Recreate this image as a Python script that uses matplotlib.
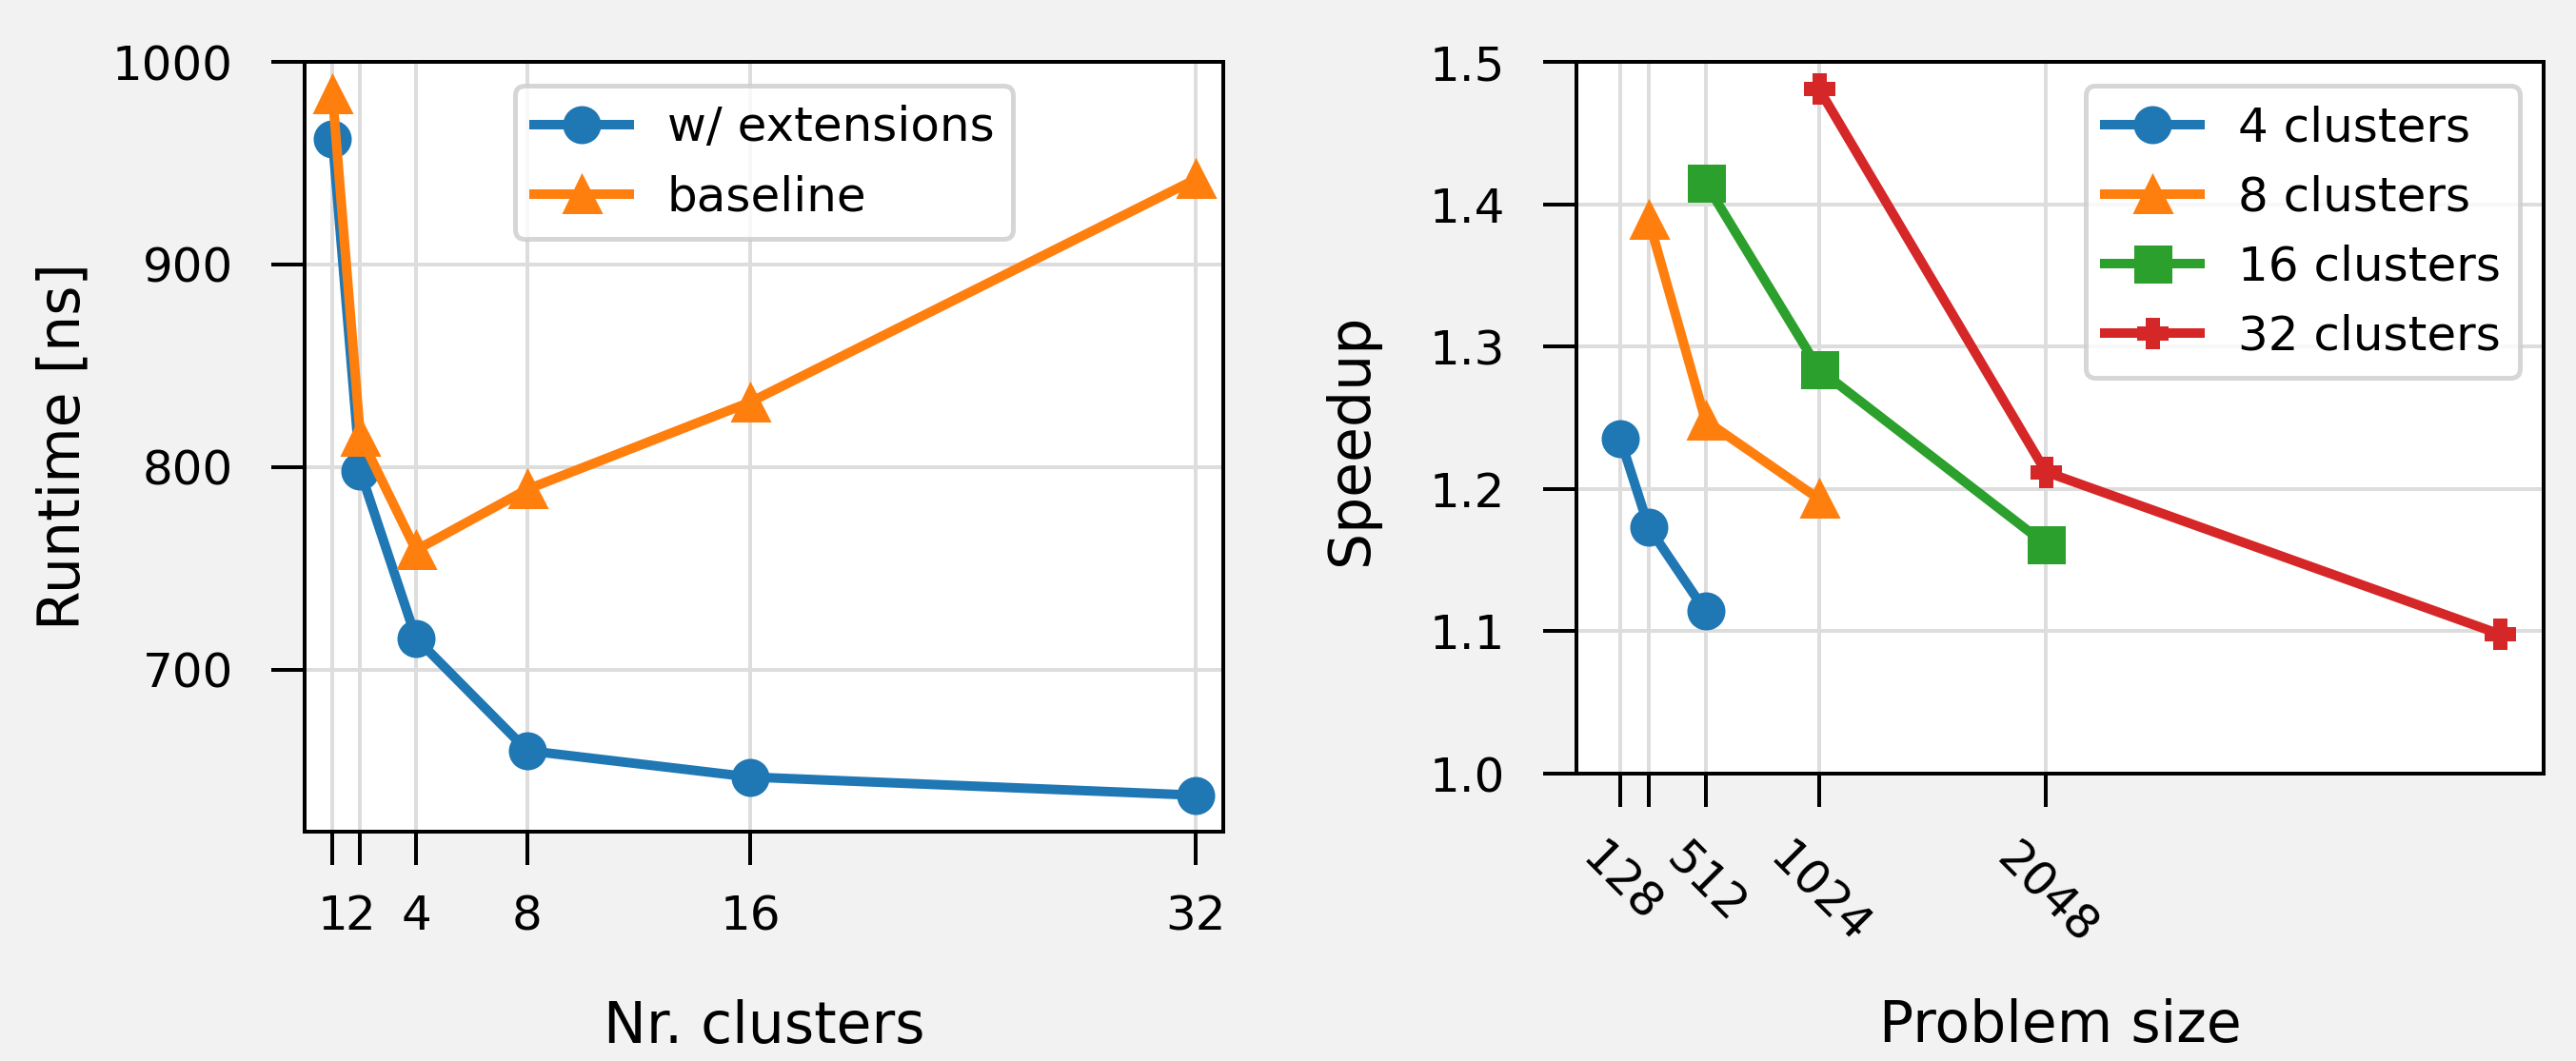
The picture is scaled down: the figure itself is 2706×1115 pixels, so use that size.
import matplotlib
matplotlib.use("Agg")
import matplotlib.pyplot as plt

# left panel: runtime vs number of clusters
clusters = [1, 2, 4, 8, 16, 32]
runtime_ext = [962, 798, 715.5, 660, 647, 638]
runtime_base = [984, 815, 759, 789, 832, 942]

# right panel: speedup vs problem size
size_ticks = [128, 256, 512, 1024, 2048]
size_tick_labels = ["128", "", "512", "1024", "2048"]
sizes_4 = [128, 256, 512]
speedup_4 = [1.235, 1.173, 1.114]
sizes_8 = [256, 512, 1024]
speedup_8 = [1.389, 1.248, 1.193]
sizes_16 = [512, 1024, 2048]
speedup_16 = [1.415, 1.284, 1.161]
sizes_32 = [1024, 2048, 4096]
speedup_32 = [1.481, 1.212, 1.098]

plt.rcParams["font.family"] = ["DejaVu Sans"]
plt.rcParams["font.size"] = 10

fig = plt.figure(figsize=(2706 / 360, 1115 / 360), dpi=360, facecolor="#f2f2f2")

ax1 = fig.add_axes([0.11826, 0.21614, 0.35661, 0.72556])
ax2 = fig.add_axes([0.61197, 0.27085, 0.37546, 0.67085])

for ax in (ax1, ax2):
    ax.set_facecolor("white")
    ax.grid(True, color="#dddddd", linewidth=0.8)
    ax.set_axisbelow(True)
    ax.tick_params(axis="both", length=7, width=0.8)
    ax.tick_params(axis="x", pad=6)
    ax.tick_params(axis="y", pad=8)

# runtime
ax1.plot(clusters, runtime_ext, "o-", color="C0", ms=7, lw=2, label="w/ extensions")
ax1.plot(clusters, runtime_base, "^-", color="C1", ms=7, lw=2, label="baseline")
ax1.set_xticks(clusters)
ax1.set_xlim(0, 33)
ax1.set_ylim(620, 1000)
ax1.set_yticks([700, 800, 900, 1000])
ax1.set_xlabel("Nr. clusters", fontsize=12)
ax1.set_ylabel("Runtime [ns]", fontsize=12)
ax1.xaxis.set_label_coords(0.5, -0.2176)
ax1.yaxis.set_label_coords(-0.232, 0.5)
ax1.legend(loc="upper center")

# speedup
ax2.plot(sizes_4, speedup_4, "o-", color="C0", ms=7, lw=2, label="4 clusters")
ax2.plot(sizes_8, speedup_8, "^-", color="C1", ms=7, lw=2, label="8 clusters")
ax2.plot(sizes_16, speedup_16, "s-", color="C2", ms=7, lw=2, label="16 clusters")
ax2.plot(sizes_32, speedup_32, "P-", color="C3", ms=5.5, lw=2, label="32 clusters")
ax2.set_xticks(size_ticks)
ax2.set_xticklabels(size_tick_labels, rotation=-45, ha="center")
ax2.set_ylim(1.0, 1.5)
ax2.set_xlabel("Problem size", fontsize=12)
ax2.set_ylabel("Speedup", fontsize=12)
ax2.xaxis.set_label_coords(0.5, -0.3155)
ax2.yaxis.set_label_coords(-0.204, 0.469)
ax2.legend(loc="upper right")

fig.savefig("out.png", dpi=360, facecolor=fig.get_facecolor())
